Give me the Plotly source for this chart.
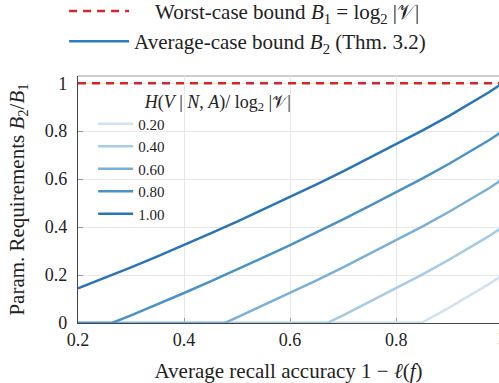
import plotly.graph_objects as go

# ---- data ----
h_labels = ["0.20", "0.40", "0.60", "0.80", "1.00"]
x_h02 = [0.2, 0.847, 0.85, 0.9, 0.95, 0.975, 0.99, 1.0]
y_h02 = [0, 0, 0.003, 0.064, 0.128, 0.162, 0.184, 0.2]
x_h04 = [0.2, 0.670, 0.7, 0.75, 0.8, 0.85, 0.9, 0.95, 0.975, 0.99, 1.0]
y_h04 = [0, 0, 0.032, 0.088, 0.145, 0.203, 0.264, 0.328, 0.362, 0.384, 0.4]
x_h06 = [0.2, 0.477, 0.5, 0.55, 0.6, 0.65, 0.7, 0.75, 0.8, 0.85, 0.9, 0.95, 0.975, 0.99, 1.0]
y_h06 = [0, 0, 0.023, 0.074, 0.125, 0.178, 0.232, 0.288, 0.345, 0.403, 0.464, 0.528, 0.562, 0.584, 0.6]
x_h08 = [0.2, 0.264, 0.3, 0.35, 0.4, 0.45, 0.5, 0.55, 0.6, 0.65, 0.7, 0.75, 0.8, 0.85, 0.9, 0.95, 0.975, 0.99, 1.0]
y_h08 = [0, 0, 0.032, 0.078, 0.125, 0.174, 0.223, 0.274, 0.325, 0.378, 0.432, 0.488, 0.545, 0.603, 0.664, 0.728, 0.762, 0.784, 0.8]
x_h10 = [0.2, 0.25, 0.3, 0.35, 0.4, 0.45, 0.5, 0.55, 0.6, 0.65, 0.7, 0.75, 0.8, 0.85, 0.9, 0.95, 0.975, 0.99, 1.0]
y_h10 = [0.145, 0.188, 0.232, 0.278, 0.325, 0.374, 0.423, 0.474, 0.525, 0.578, 0.632, 0.688, 0.745, 0.803, 0.864, 0.928, 0.962, 0.984, 1.0]
x_worst = [0.2, 1.0]
y_worst = [1.0, 1.0]

xticks = [0.2, 0.4, 0.6, 0.8, 1.0]
xtick_text = ["0.2", "0.4", "0.6", "0.8", "1"]
yticks = [0, 0.2, 0.4, 0.6, 0.8, 1.0]
ytick_text = ["0", "0.2", "0.4", "0.6", "0.8", "1"]

colors = ["#cfe1f2", "#a5cbe5", "#79b0d9", "#4a92c8", "#2a74b8"]
FONT = "Liberation Serif, DejaVu Serif, serif"
NB = "\u00a0"

fig = go.Figure()

fig.add_trace(go.Scatter(x=x_worst, y=y_worst, mode="lines",
                         line=dict(color="#d62728", width=2.5, dash="8px,6px"),
                         name=NB * 4 + "Worst-case bound <i>B</i><sub>1</sub> = log<sub>2</sub> |𝒱|",
                         legend="legend", legendgroup="a"))
fig.add_trace(go.Scatter(x=[None], y=[None], mode="lines",
                         line=dict(color="#2f7dc1", width=2.5),
                         name="Average-case bound <i>B</i><sub>2</sub> (Thm. 3.2)",
                         legend="legend", legendgroup="b"))

series = [(x_h02, y_h02), (x_h04, y_h04), (x_h06, y_h06), (x_h08, y_h08), (x_h10, y_h10)]
for (xs, ys), lab, c in zip(series, h_labels, colors):
    fig.add_trace(go.Scatter(x=xs, y=ys, mode="lines", line=dict(color=c, width=2.5),
                             name=lab, legend="legend2"))

fig.update_layout(
    width=499, height=383,
    margin=dict(l=78, r=0, t=76, b=60, autoexpand=False),
    plot_bgcolor="white", paper_bgcolor="white",
    font=dict(family=FONT, size=18, color="#222"),
    legend=dict(x=-0.033, y=1.345, xanchor="left", yanchor="top",
                bgcolor="rgba(0,0,0,0)", font=dict(size=21),
                traceorder="grouped", tracegroupgap=0, itemwidth=60),
    legend2=dict(x=0.036, y=0.967, xanchor="left", yanchor="top",
                 bgcolor="rgba(0,0,0,0)", font=dict(size=15),
                 title=dict(text=NB * 11 + "<i>H</i>(<i>V</i> | <i>N</i>, <i>A</i>)/ log<sub>2</sub> |𝒱|",
                            font=dict(size=18), side="top"),
                 itemwidth=35, tracegroupgap=0),
    showlegend=True,
)
fig.update_xaxes(range=[0.2, 0.994], tickvals=xticks, ticktext=xtick_text,
                 showgrid=True, gridcolor="#e8e8e8", gridwidth=1,
                 showline=True, linecolor="#444", linewidth=1.2, mirror=False,
                 ticks="inside", ticklen=5, tickcolor="#999",
                 zeroline=False, layer="below traces", automargin=False,
                 title=dict(text="Average recall accuracy 1 − <i>ℓ</i>(<i>f</i>)", standoff=17,
                            font=dict(size=21)))
fig.update_yaxes(range=[0, 1.03], tickvals=yticks, ticktext=ytick_text,
                 showgrid=True, gridcolor="#e8e8e8", gridwidth=1,
                 showline=True, linecolor="#444", linewidth=1.2, mirror=False,
                 ticks="inside", ticklen=5, tickcolor="#999", ticklabelstandoff=6,
                 zeroline=False, layer="below traces", automargin=False,
                 title=dict(text="Param. Requirements <i>B</i><sub>2</sub>/<i>B</i><sub>1</sub>", standoff=14,
                            font=dict(size=21)))
# top frame line
fig.add_shape(type="line", xref="paper", yref="paper", x0=0, x1=1, y0=1, y1=1,
              line=dict(color="#999", width=1.2), layer="below")
fig.add_annotation(text="1", xref="paper", yref="paper", x=1.007, y=0, xanchor="center",
                   yanchor="top", yshift=-3, showarrow=False, font=dict(size=18))

fig.write_html("out.html", config={"displayModeBar": False},
               post_script="document.body.style.margin='0';document.body.style.overflow='hidden';")
